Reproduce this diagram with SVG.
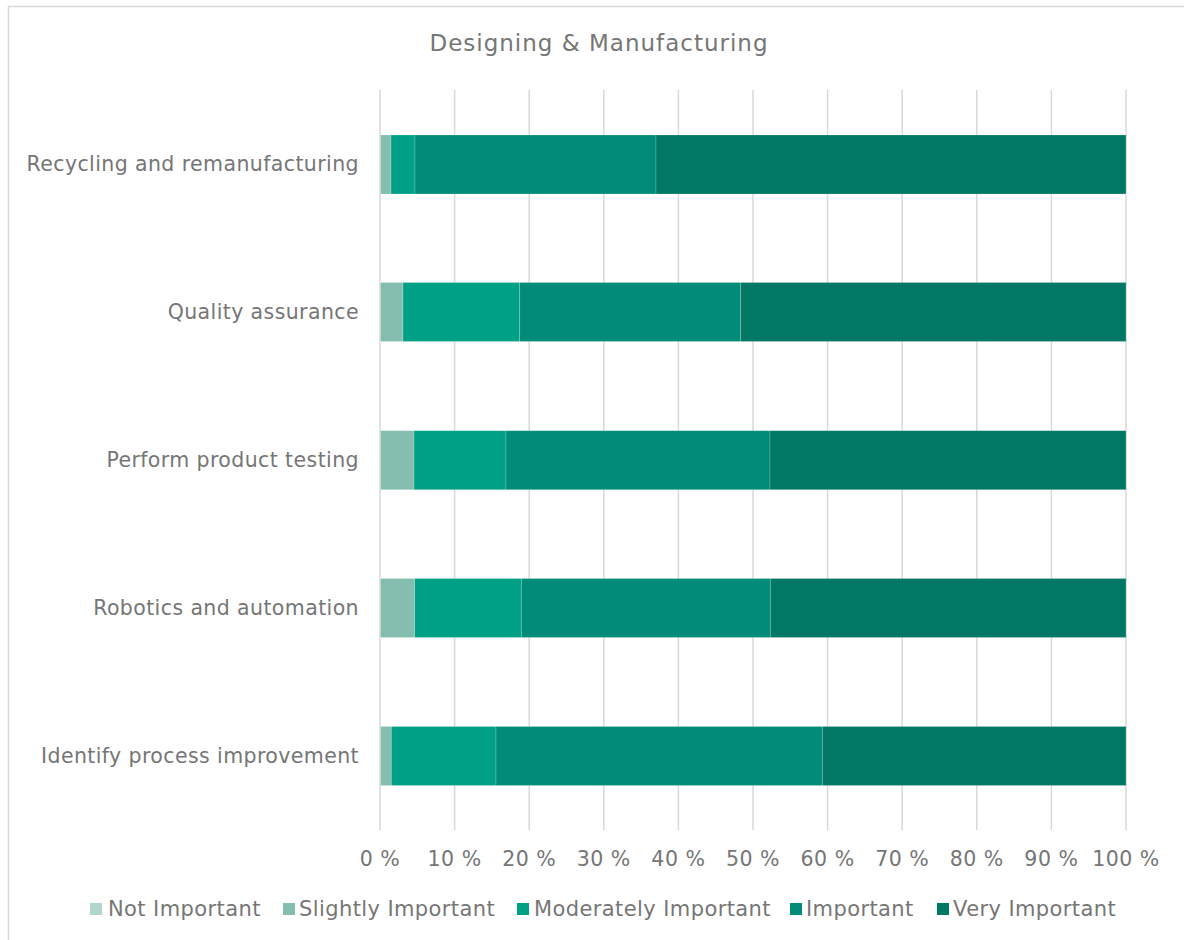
<svg xmlns="http://www.w3.org/2000/svg" width="1184" height="940" viewBox="0 0 1184 940">
<style>
text{font-family:"DejaVu Sans",Verdana,sans-serif;fill:#767676}
.cat{font-size:20.5px;letter-spacing:0.4px;text-anchor:end}
.ax{font-size:20.5px;letter-spacing:0.5px;text-anchor:middle}
.lg{font-size:21px;letter-spacing:0.4px}
.grid line{stroke:#d9d9d9;stroke-width:1.5}
.n{fill:#b3d6cc}.s{fill:#85bdae}.m{fill:#00a086}.i{fill:#008c79}.v{fill:#007864}
.bar rect{stroke:#ffffff;stroke-opacity:0.25;stroke-width:0.75}
</style>
<rect x="0" y="0" width="1184" height="940" fill="#ffffff"/>
<rect x="8.5" y="6.5" width="1200" height="960" fill="none" stroke="#d9d9d9" stroke-width="1.5"/>
<text x="599" y="51" style="font-size:23px;letter-spacing:1px;text-anchor:middle">Designing &amp; Manufacturing</text>
<g class="grid">
<line x1="380" y1="90" x2="380" y2="830"/>
<line x1="454.6" y1="90" x2="454.6" y2="830"/>
<line x1="529.2" y1="90" x2="529.2" y2="830"/>
<line x1="603.8" y1="90" x2="603.8" y2="830"/>
<line x1="678.4" y1="90" x2="678.4" y2="830"/>
<line x1="753" y1="90" x2="753" y2="830"/>
<line x1="827.6" y1="90" x2="827.6" y2="830"/>
<line x1="902.2" y1="90" x2="902.2" y2="830"/>
<line x1="976.8" y1="90" x2="976.8" y2="830"/>
<line x1="1051.4" y1="90" x2="1051.4" y2="830"/>
<line x1="1126" y1="90" x2="1126" y2="830"/>
</g>
<g id="bar-recycling" class="bar">
<rect class="s" x="380.5" y="135" width="10.5" height="59"/>
<rect class="m" x="391" y="135" width="24" height="59"/>
<rect class="i" x="415" y="135" width="241" height="59"/>
<rect class="v" x="656" y="135" width="470" height="59"/>
<text class="cat" x="359" y="171">Recycling and remanufacturing</text>
</g>
<g id="bar-quality" class="bar">
<rect class="s" x="380.5" y="282.5" width="22.5" height="59"/>
<rect class="m" x="403" y="282.5" width="116.7" height="59"/>
<rect class="i" x="519.7" y="282.5" width="221" height="59"/>
<rect class="v" x="740.7" y="282.5" width="385.3" height="59"/>
<text class="cat" x="359" y="319">Quality assurance</text>
</g>
<g id="bar-testing" class="bar">
<rect class="s" x="380.5" y="430.7" width="33.5" height="59"/>
<rect class="m" x="414" y="430.7" width="92" height="59"/>
<rect class="i" x="506" y="430.7" width="264" height="59"/>
<rect class="v" x="770" y="430.7" width="356" height="59"/>
<text class="cat" x="359" y="467">Perform product testing</text>
</g>
<g id="bar-robotics" class="bar">
<rect class="s" x="380.5" y="578.5" width="34.2" height="59"/>
<rect class="m" x="414.7" y="578.5" width="106.6" height="59"/>
<rect class="i" x="521.3" y="578.5" width="249" height="59"/>
<rect class="v" x="770.3" y="578.5" width="355.7" height="59"/>
<text class="cat" x="359" y="615">Robotics and automation</text>
</g>
<g id="bar-process" class="bar">
<rect class="s" x="380.5" y="726.5" width="10.8" height="59"/>
<rect class="m" x="391.3" y="726.5" width="104.7" height="59"/>
<rect class="i" x="496" y="726.5" width="326.3" height="59"/>
<rect class="v" x="822.3" y="726.5" width="303.7" height="59"/>
<text class="cat" x="359" y="763">Identify process improvement</text>
</g>
<g id="axis">
<text class="ax" x="380" y="866">0 %</text>
<text class="ax" x="454.6" y="866">10 %</text>
<text class="ax" x="529.2" y="866">20 %</text>
<text class="ax" x="603.8" y="866">30 %</text>
<text class="ax" x="678.4" y="866">40 %</text>
<text class="ax" x="753" y="866">50 %</text>
<text class="ax" x="827.6" y="866">60 %</text>
<text class="ax" x="902.2" y="866">70 %</text>
<text class="ax" x="976.8" y="866">80 %</text>
<text class="ax" x="1051.4" y="866">90 %</text>
<text class="ax" x="1126" y="866">100 %</text>
</g>
<g id="legend">
<rect class="n" x="90" y="903" width="12" height="12"/><text class="lg" x="108" y="916">Not Important</text>
<rect class="s" x="283" y="903" width="12" height="12"/><text class="lg" x="299" y="916">Slightly Important</text>
<rect class="m" x="517" y="903" width="12" height="12"/><text class="lg" x="534" y="916">Moderately Important</text>
<rect class="i" x="790" y="903" width="12" height="12"/><text class="lg" x="806" y="916">Important</text>
<rect class="v" x="937" y="903" width="12" height="12"/><text class="lg" x="953" y="916">Very Important</text>
</g>
</svg>
